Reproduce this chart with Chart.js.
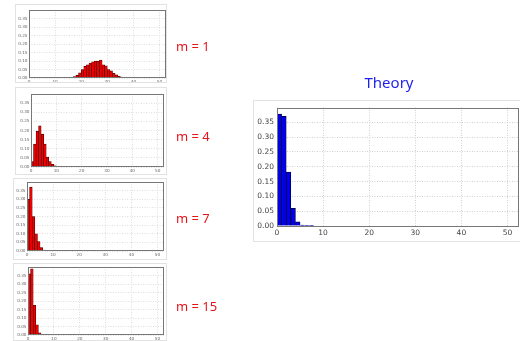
<!DOCTYPE html>
<html>
<head>
<meta charset="utf-8">
<script src="https://cdn.jsdelivr.net/npm/chart.js@4.4.1/dist/chart.umd.min.js"></script>
<style>
  body { margin: 0; background: #fff; width: 520px; height: 341px; overflow: hidden; position: relative; font-family: "Noto Sans", sans-serif; }
  canvas { position: absolute; outline: 1px solid #e2e2e2; outline-offset: -1px; }
  .mlabel { position: absolute; left: 176px; color: #e8141c; font-size: 13px; line-height: 13px; white-space: nowrap; }
  #title { position: absolute; left: 329px; width: 120px; top: 75px; text-align: center; color: #1f1fef; font-size: 15px; line-height: 15px; }
</style>
</head>
<body>
<canvas id="c1" width="152" height="79" style="left:15px;top:4px"></canvas>
<canvas id="c4" width="152" height="88" style="left:15px;top:87px"></canvas>
<canvas id="c7" width="154" height="82" style="left:13px;top:178px"></canvas>
<canvas id="c15" width="154" height="78" style="left:13px;top:263px"></canvas>
<canvas id="ct" width="270" height="142" style="left:253px;top:100px"></canvas>

<div class="mlabel" style="top:40px">m = 1</div>
<div class="mlabel" style="top:130px">m = 4</div>
<div class="mlabel" style="top:212px">m = 7</div>
<div class="mlabel" style="top:300px">m = 15</div>
<div id="title">Theory</div>

<script>
// histogram heights, index = bin (bin k spans k..k+1)
const m1 = [0, 0, 0, 0, 0, 0, 0, 0, 0, 0, 0, 0,
  0.001, 0, 0.001, 0.001, 0.003, 0.008, 0.015, 0.03, 0.05, 0.068, 0.078, 0.088,
  0.095, 0.1, 0.098, 0.106, 0.078, 0.072, 0.05, 0.042, 0.028, 0.018, 0.01, 0.005,
  0.003, 0.002, 0.001];
const m4 = [0.03, 0.125, 0.195, 0.225, 0.18, 0.125, 0.055, 0.03, 0.015, 0.006, 0.002, 0.001];
const m7 = [0.30, 0.37, 0.20, 0.10, 0.055, 0.02, 0.006, 0.002];
const m15 = [0.36, 0.39, 0.175, 0.06, 0.013, 0.003, 0.001];
const theory = [0.378, 0.37, 0.182, 0.06, 0.014, 0.003, 0.001, 0.0005];

const xTicks = [0, 10, 20, 30, 40, 50];
const yTicks = [0, 0.05, 0.1, 0.15, 0.2, 0.25, 0.3, 0.35];
const xMax = 52.5;
const yMax = 0.4;

// dark frame round the plot area, like matplotlib's axes box
const boxPlugin = {
  id: 'box',
  afterDraw(chart) {
    const a = chart.chartArea;
    const ctx = chart.ctx;
    ctx.save();
    ctx.strokeStyle = '#777';
    ctx.lineWidth = 1;
    ctx.strokeRect(Math.round(a.left) + 0.5, Math.round(a.top) + 0.5,
      Math.round(a.right - a.left) - 1, Math.round(a.bottom - a.top) - 1);
    ctx.restore();
  }
};

function makeChart(id, values, fill, edge, g) {
  const points = values.map((v, i) => ({ x: i + 0.5, y: v })).filter(p => p.y > 0);
  return new Chart(document.getElementById(id), {
    type: 'bar',
    data: {
      datasets: [{
        data: points,
        backgroundColor: fill,
        borderColor: edge,
        borderWidth: g.edgeWidth,
        barPercentage: 1,
        categoryPercentage: 1
      }]
    },
    options: {
      responsive: false,
      animation: false,
      layout: { padding: { left: 0, top: g.padTop, right: g.padRight, bottom: 0 } },
      plugins: { legend: { display: false }, tooltip: { enabled: false } },
      scales: {
        x: {
          type: 'linear',
          min: 0,
          max: xMax,
          offset: false,
          afterBuildTicks: s => { s.ticks = xTicks.map(v => ({ value: v })); },
          afterFit: s => { s.height = g.xHeight; },
          grid: { offset: false, color: g.gridColor, drawTicks: false },
          border: { display: false, dash: [1, 1.5] },
          ticks: { padding: g.tickPad, maxRotation: 0, autoSkip: false, color: g.tickColor,
                   font: { size: g.font, family: 'DejaVu Sans' }, callback: v => v }
        },
        y: {
          min: 0,
          max: yMax,
          afterBuildTicks: s => { s.ticks = yTicks.map(v => ({ value: v })); },
          afterFit: s => { s.width = g.yWidth; },
          grid: { color: g.gridColor, drawTicks: false },
          border: { display: false, dash: [1, 1.5] },
          ticks: { padding: g.tickPad, color: g.tickColor,
                   font: { size: g.font, family: 'DejaVu Sans' }, callback: v => v.toFixed(2) }
        }
      }
    },
    plugins: [boxPlugin]
  });
}

const red = '#ee0000', redEdge = '#3a0000';
const small = { font: 4.2, tickPad: 1.5, gridColor: '#dedede', tickColor: '#666', edgeWidth: 0.6 };

makeChart('c1', m1, red, redEdge, Object.assign({ yWidth: 14, padTop: 6, padRight: 1, xHeight: 5 }, small));
makeChart('c4', m4, red, redEdge, Object.assign({ yWidth: 16, padTop: 7, padRight: 3, xHeight: 8 }, small));
makeChart('c7', m7, red, redEdge, Object.assign({ yWidth: 14, padTop: 4, padRight: 3, xHeight: 9 }, small));
makeChart('c15', m15, red, redEdge, Object.assign({ yWidth: 15, padTop: 4, padRight: 3, xHeight: 6 }, small));
makeChart('ct', theory, '#0000ee', '#00002a',
  { yWidth: 24, padTop: 7, padRight: 4, xHeight: 16, font: 7.5, tickPad: 3, gridColor: '#d0d0d0',
    tickColor: '#444', edgeWidth: 0.8 });
</script>
</body>
</html>
